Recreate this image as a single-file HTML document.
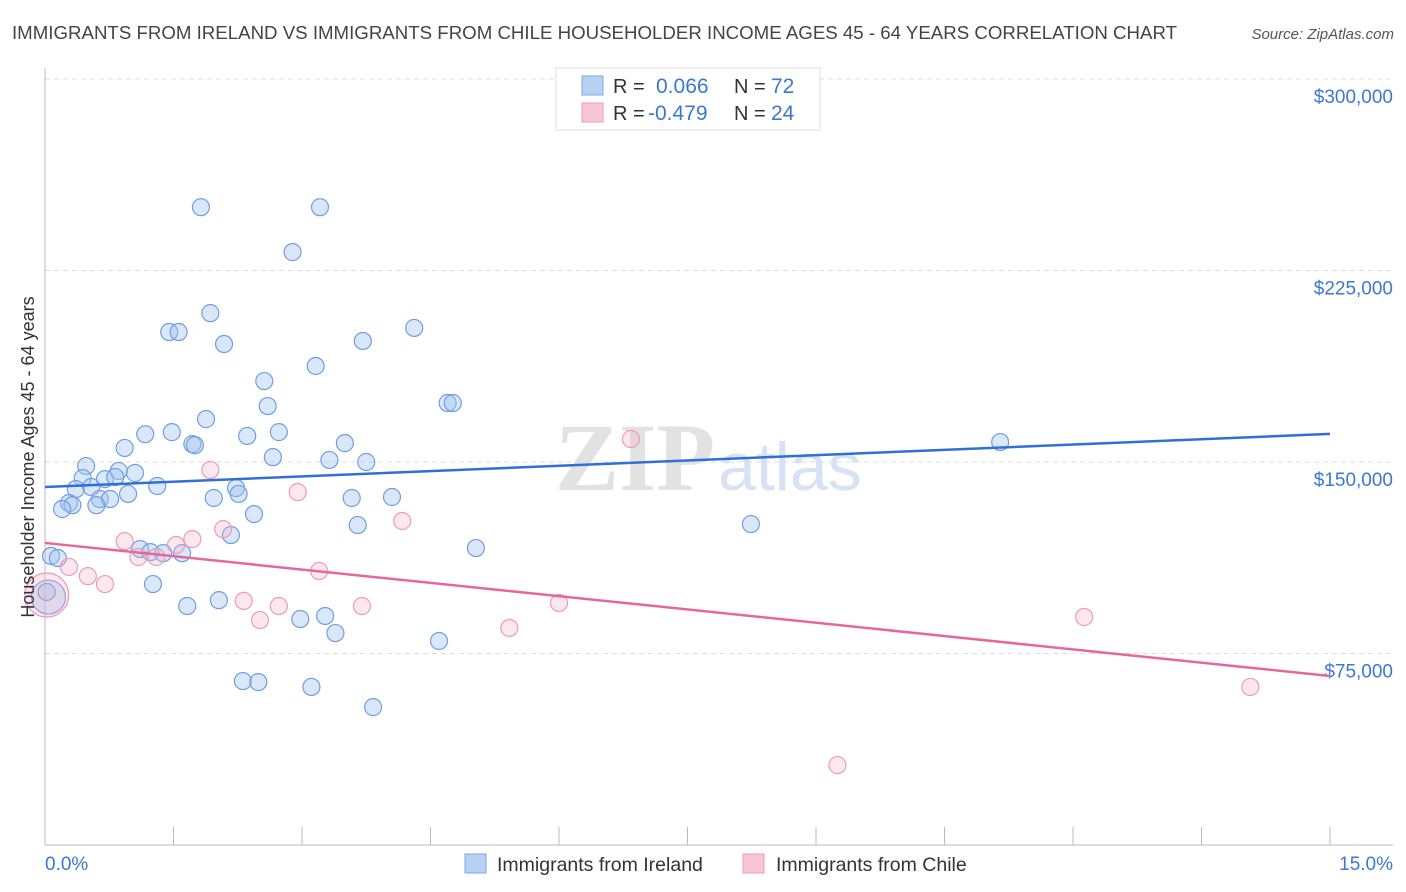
<!DOCTYPE html>
<html><head><meta charset="utf-8"><style>
body{margin:0;background:#fff;font-family:"Liberation Sans",sans-serif}
</style></head><body>
<svg id="chart" width="1406" height="892" xmlns="http://www.w3.org/2000/svg" style="display:block">
<text x="12" y="39" font-size="18" fill="#444" textLength="1165" lengthAdjust="spacingAndGlyphs">IMMIGRANTS FROM IRELAND VS IMMIGRANTS FROM CHILE HOUSEHOLDER INCOME AGES 45 - 64 YEARS CORRELATION CHART</text>
<text x="1394" y="39" font-size="15" fill="#555" font-style="italic" text-anchor="end">Source: ZipAtlas.com</text>
<g>
<text x="555" y="490" font-size="96" font-family="Liberation Serif,serif" fill="#e2e2e2" font-weight="bold">ZIP</text>
<text x="718" y="490" font-size="68" fill="#d6e3f4">atlas</text>
</g>
<g id="grid"></g>
<g id="axes"></g>
<g id="marks"></g>
<text transform="translate(34,457) rotate(-90)" font-size="18" fill="#333" text-anchor="middle">Householder Income Ages 45 - 64 years</text>
<g>
<rect x="556" y="68" width="264" height="62" fill="#fff" stroke="#ddd"/>
<rect x="582" y="76" width="21" height="19" fill="#b8d1f3" stroke="#7aa7e6"/>
<rect x="582" y="103" width="21" height="19" fill="#f9c6d6" stroke="#ef9ab7"/>
<text x="613" y="93" font-size="20" fill="#333">R =</text>
<text x="656" y="93" font-size="21" fill="#3a78d4">0.066</text>
<text x="734" y="93" font-size="20" fill="#333">N =</text>
<text x="771" y="93" font-size="21" fill="#3a78d4">72</text>
<text x="613" y="120" font-size="20" fill="#333">R =</text>
<text x="648" y="120" font-size="21" fill="#3a78d4">-0.479</text>
<text x="734" y="120" font-size="20" fill="#333">N =</text>
<text x="771" y="120" font-size="21" fill="#3a78d4">24</text>
</g>
<g>
<rect x="465" y="854" width="21" height="19" fill="#b8d1f3" stroke="#7aa7e6"/>
<text x="497" y="871" font-size="19.5" fill="#333">Immigrants from Ireland</text>
<rect x="743" y="854" width="21" height="19" fill="#f9c6d6" stroke="#ef9ab7"/>
<text x="776" y="871" font-size="19.5" fill="#333">Immigrants from Chile</text>
</g>
</svg>
<script>
const yTicks=[75000,150000,225000,300000];
const yTickLabels=["$75,000","$150,000","$225,000","$300,000"];
const xTickLabels=["0.0%","15.0%"];
const irelandX=[1.82,3.21,2.89,1.93,1.45,1.56,2.09,3.71,4.31,3.16,2.56,2.60,4.70,4.76,1.88,1.17,1.48,2.73,2.36,1.72,1.75,0.93,3.50,2.66,3.32,3.75,0.48,0.86,1.05,0.70,0.82,0.44,1.31,0.36,0.54,2.23,2.26,0.97,0.64,0.76,1.97,3.58,4.05,0.28,0.32,0.60,0.20,2.44,3.65,8.24,2.17,11.15,5.03,1.11,0.07,0.15,1.23,1.38,1.60,1.26,2.03,1.66,2.98,3.27,3.39,4.60,2.31,2.49,3.11,3.83,0.04,0.02];
const irelandY=[249.8,249.8,232.2,208.3,200.9,200.9,196.2,197.4,202.5,187.6,181.7,171.9,173.1,173.1,166.8,160.9,161.7,161.7,160.2,157.0,156.6,155.5,157.4,151.9,150.8,150.0,148.4,146.5,145.7,143.3,144.1,143.7,140.6,139.4,140.2,139.8,137.5,137.5,135.5,135.5,135.9,135.9,136.3,133.9,133.1,133.1,131.6,129.6,125.3,125.7,121.4,157.8,116.3,115.9,113.2,112.4,114.7,114.3,114.3,102.2,95.9,93.6,88.5,89.7,83.0,79.9,64.2,63.8,61.9,54.0,97.1,99.1];
const irelandBig=[70];
const chileX=[6.84,1.93,2.95,4.17,2.08,0.93,1.72,1.53,1.09,1.30,0.28,0.50,0.70,3.20,2.32,2.73,3.70,6.00,2.51,5.42,12.13,14.07,9.25,0.02];
const chileY=[159.0,146.9,138.2,126.9,123.7,119.0,119.8,117.5,112.8,112.8,108.9,105.3,102.2,107.3,95.6,93.6,93.6,94.8,88.1,85.0,89.3,61.9,31.3,97.9];
const chileBig=[23];
const irelandTrend=[140200,161000];
const chileTrend=[118300,66200];
const NS="http://www.w3.org/2000/svg";
const X0=45,X1=1330,Y0=845,PX=191.5/75000;
const xs=p=>X0+(p/15)*(X1-X0);
const ys=v=>Y0-v*PX;
function mk(tag,attrs,parent){const e=document.createElementNS(NS,tag);for(const k in attrs)e.setAttribute(k,attrs[k]);document.getElementById(parent).appendChild(e);return e;}
yTicks.forEach((t,i)=>{
 const g=mk('line',{x1:X0,x2:1393,y1:ys(t),y2:ys(t),stroke:'#ddd','stroke-dasharray':'5,4'},'grid');
 
 
 const l=mk('text',{x:1393,y:ys(t)+24,'font-size':19,fill:'#3a78d4','text-anchor':'end'},'grid');
 
 
 l.textContent=yTickLabels[i];
});
const tl=mk('line',{x1:X0,x2:1393,y1:ys(300000),y2:ys(300000),stroke:'#ddd','stroke-dasharray':'5,4'},'grid');


const ax=mk('line',{x1:X0,x2:1393,y1:Y0,y2:Y0,stroke:'#bbb'},'axes');


const ay=mk('line',{x1:X0,x2:X0,y1:68,y2:Y0,stroke:'#bbb'},'axes');


for(let i=0;i<=10;i++){
 const t=mk('line',{x1:xs(i*1.5),x2:xs(i*1.5),y1:Y0,y2:Y0-18,stroke:'#bbb'},'axes');
 
 
}
const xl0=mk('text',{x:X0,y:870,'font-size':19,fill:'#3a78d4'},'axes');


xl0.textContent=xTickLabels[0];
const xl1=mk('text',{x:1393,y:870,'font-size':19,fill:'#3a78d4','text-anchor':'end'},'axes');


xl1.textContent=xTickLabels[1];
function pts(X,Y,big,fill,stroke,name){
 X.forEach((x,i)=>{
  const b=big.includes(i);
  const c=mk('circle',{cx:xs(x),cy:ys(Y[i]*1000),r:b?(name==='chile-point'?22:17):8.5,fill:fill,stroke:stroke,'stroke-width':1.2},'marks');
  
  
 });
}
pts(irelandX,irelandY,irelandBig,'rgba(160,195,240,0.4)','#6f9fe0','ireland-point');
pts(chileX,chileY,chileBig,'rgba(245,175,200,0.3)','#ec9cb8','chile-point');
const l1=mk('line',{x1:xs(0),x2:xs(15),y1:ys(irelandTrend[0]),y2:ys(irelandTrend[1]),stroke:'#2f6fd6','stroke-width':2.5},'marks');


const l2=mk('line',{x1:xs(0),x2:xs(15),y1:ys(chileTrend[0]),y2:ys(chileTrend[1]),stroke:'#e4689a','stroke-width':2.5},'marks');


</script>
</body></html>
